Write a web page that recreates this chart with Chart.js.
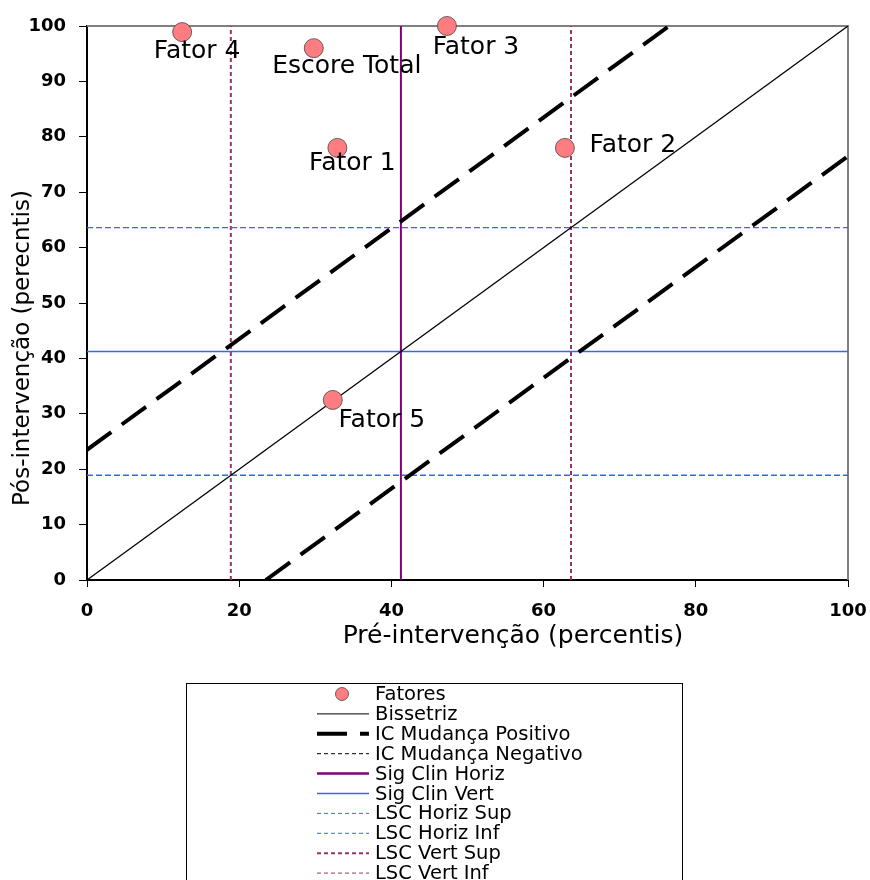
<!DOCTYPE html>
<html>
<head>
<meta charset="utf-8">
<script src="https://cdn.jsdelivr.net/npm/chart.js@4"></script>
<style>
  html, body { margin: 0; padding: 0; background: #fff; }
  #wrap { width: 870px; height: 880px; position: relative; }
</style>
</head>
<body>
<div id="wrap"><canvas id="rciChart"></canvas></div>
<script>
// pontos (pre x pos)
const fatorNames = ['Fator 4', 'Escore Total', 'Fator 3', 'Fator 1', 'Fator 2', 'Fator 5'];
const preValues = [12.5, 29.8, 47.3, 32.9, 62.8, 32.3];
const posValues = [98.9, 96.0, 100, 78.0, 78.0, 32.5];

// linhas de referencia
const bissetriz = [{x: 0, y: 0}, {x: 100, y: 100}];
const icPositivo = [{x: 0, y: 23.5}, {x: 76.5, y: 100}];
const icNegativo = [{x: 23.5, y: 0}, {x: 100, y: 76.5}];
const sigClin = 41.25;
const lscInf = 18.9;
const lscSup = 63.6;

const xTicks = [0, 20, 40, 60, 80, 100];
const yTicks = [0, 10, 20, 30, 40, 50, 60, 70, 80, 90, 100];

const legendLabels = ['Fatores', 'Bissetriz', 'IC Mudança Positivo', 'IC Mudança Negativo',
    'Sig Clin Horiz', 'Sig Clin Vert', 'LSC Horiz Sup', 'LSC Horiz Inf', 'LSC Vert Sup', 'LSC Vert Inf'];

const FONT = 'DejaVu Sans';
Chart.defaults.font.family = FONT;
Chart.defaults.color = '#000';

function lineSet(data, color, width, dash) {
    return {
        data: data,
        showLine: true,
        borderColor: color,
        borderWidth: width,
        borderDash: dash || [],
        borderCapStyle: 'butt',
        pointRadius: 0,
        fill: false,
        order: 1
    };
}

// rotulos dos pontos, bordas superior/direita, titulos dos eixos e legenda
const extrasPlugin = {
    id: 'extras',
    beforeDatasetsDraw(chart) {
        const {ctx, chartArea: a} = chart;
        ctx.save();
        ctx.strokeStyle = '#808080';
        ctx.lineWidth = 2;
        ctx.beginPath();
        ctx.moveTo(a.left, a.top);
        ctx.lineTo(a.right, a.top);
        ctx.lineTo(a.right, a.bottom);
        ctx.stroke();
        ctx.restore();
    },
    afterDraw(chart, args, opts) {
        const ctx = chart.ctx;
        ctx.save();
        // labels
        const meta = chart.getDatasetMeta(0);
        ctx.font = '25px "' + FONT + '"';
        ctx.fillStyle = '#000';
        ctx.textAlign = 'center';
        ctx.textBaseline = 'middle';
        meta.data.forEach((pt, i) => {
            const off = opts.labelOffsets[i];
            ctx.fillText(fatorNames[i], pt.x + off[0], pt.y + off[1]);
        });

        // x title
        ctx.font = '25px "' + FONT + '"';
        ctx.fillText('Pré-intervenção (percentis)', 513, 636);

        // y title
        ctx.save();
        ctx.translate(23, 348);
        ctx.rotate(-Math.PI / 2);
        ctx.font = '23px "' + FONT + '"';
        ctx.fillText('Pós-intervenção (perecntis)', 0, 0);
        ctx.restore();

        // legenda
        ctx.strokeStyle = '#000';
        ctx.lineWidth = 1;
        ctx.strokeRect(186.5, 683.5, 496, 230);
        ctx.font = '19.5px "' + FONT + '"';
        ctx.textAlign = 'left';
        const styles = opts.legendStyles;
        legendLabels.forEach((lab, i) => {
            const y = 694 + i * 19.9;
            const s = styles[i];
            if (s.point) {
                ctx.beginPath();
                ctx.arc(342, y, 6.5, 0, Math.PI * 2);
                ctx.fillStyle = '#ff7c80';
                ctx.fill();
                ctx.strokeStyle = '#444';
                ctx.lineWidth = 0.8;
                ctx.stroke();
            } else {
                ctx.beginPath();
                ctx.setLineDash(s.dash || []);
                ctx.strokeStyle = s.color;
                ctx.lineWidth = s.width;
                ctx.moveTo(317, y);
                ctx.lineTo(369, y);
                ctx.stroke();
                ctx.setLineDash([]);
            }
            ctx.fillStyle = '#000';
            ctx.fillText(lab, 375, y + 1);
        });
        ctx.restore();
    }
};

const ctx = document.getElementById('rciChart').getContext('2d');
window.rciChart = new Chart(ctx, {
    type: 'scatter',
    data: {
        datasets: [
            {
                label: 'Fatores',
                data: preValues.map((v, i) => ({x: v, y: posValues[i]})),
                backgroundColor: '#ff7c80',
                borderColor: '#444',
                borderWidth: 0.8,
                pointRadius: 9.5,
                clip: false,
                order: 0
            },
            lineSet(bissetriz, '#000', 1.3),
            lineSet(icPositivo, '#000', 4, [30, 13]),
            lineSet(icNegativo, '#000', 4, [30, 13]),
            lineSet([{x: sigClin, y: 0}, {x: sigClin, y: 100}], '#800080', 2),
            lineSet([{x: 0, y: sigClin}, {x: 100, y: sigClin}], '#3366ff', 1.6),
            lineSet([{x: 0, y: lscSup}, {x: 100, y: lscSup}], '#3366ff', 1.4, [6, 3]),
            lineSet([{x: 0, y: lscInf}, {x: 100, y: lscInf}], '#3366ff', 1.4, [6, 3]),
            lineSet([{x: lscSup, y: 0}, {x: lscSup, y: 100}], '#993366', 2, [4, 3]),
            lineSet([{x: lscInf, y: 0}, {x: lscInf, y: 100}], '#993366', 2, [4, 3])
        ]
    },
    options: {
        responsive: true,
        maintainAspectRatio: false,
        animation: false,
        layout: { padding: { left: 0, top: 26, right: 22, bottom: 229 } },
        plugins: {
            legend: { display: false },
            tooltip: { enabled: false },
            extras: {
                labelOffsets: [[15, 19], [33, 18], [29, 21], [15, 16], [68, -2], [49, 21]],
                legendStyles: [
                    {point: true},
                    {color: '#000', width: 1},
                    {color: '#000', width: 4, dash: [30, 13]},
                    {color: '#000', width: 1, dash: [4, 3]},
                    {color: '#800080', width: 2.5},
                    {color: '#3366ff', width: 1.5},
                    {color: '#3366ff', width: 1, dash: [4, 3]},
                    {color: '#3366ff', width: 1, dash: [4, 3]},
                    {color: '#993366', width: 2, dash: [4, 3]},
                    {color: '#993366', width: 1, dash: [4, 3]}
                ]
            }
        },
        scales: {
            x: {
                type: 'linear',
                min: 0,
                max: 100,
                afterBuildTicks: s => { s.ticks = xTicks.map(v => ({value: v})); },
                afterFit: s => { s.height = 71; s.paddingLeft = 0; s.paddingRight = 0; },
                ticks: { font: { size: 18, weight: 'bold' }, padding: 14, color: '#000' },
                grid: { drawOnChartArea: false, tickLength: 7, color: '#000' },
                border: { color: '#000', width: 2 }
            },
            y: {
                type: 'linear',
                min: 0,
                max: 100,
                afterBuildTicks: s => { s.ticks = yTicks.map(v => ({value: v})); },
                afterFit: s => { s.width = 87; s.paddingTop = 0; s.paddingBottom = 0; },
                ticks: { font: { size: 18, weight: 'bold' }, padding: 13, color: '#000' },
                grid: { drawOnChartArea: false, tickLength: 8, color: '#000' },
                border: { color: '#000', width: 2 }
            }
        }
    },
    plugins: [extrasPlugin]
});
</script>
</body>
</html>
